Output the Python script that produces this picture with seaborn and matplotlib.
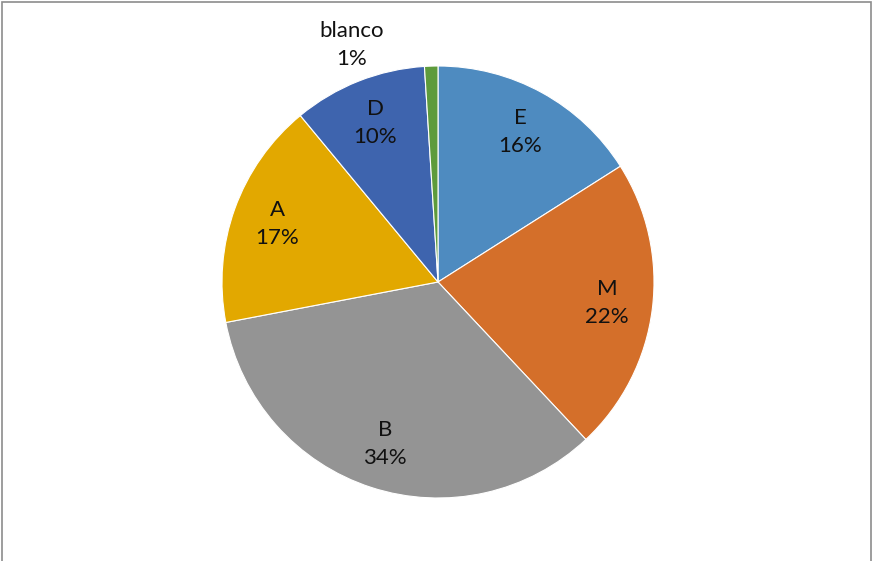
import numpy as np
import matplotlib
matplotlib.use('Agg')
import matplotlib.pyplot as plt
from matplotlib.patches import Rectangle
import seaborn as sns

# data (clockwise from the top)
labels = ['E', 'M', 'B', 'A', 'D', 'blanco']
values = [16, 22, 34, 17, 10, 1]
colors = ['#4E8BC0', '#D46F2A', '#949494', '#E2A800', '#3E64AE', '#5E9B3C']

sns.set_theme(style='white')
plt.rcParams['font.family'] = ['Lato', 'DejaVu Sans']

fig = plt.figure(figsize=(8.74, 5.61), dpi=100)
ax = fig.add_axes([0, 0, 1, 1])

pal = sns.color_palette(colors)
wedges, texts = ax.pie(values, colors=pal, startangle=90, counterclock=False,
                       radius=1.0, wedgeprops=dict(edgecolor='white', linewidth=0.8))

total = sum(values)
start = 90.0
for i, (lab, v) in enumerate(zip(labels, values)):
    frac = v / total
    mid = start - frac * 360 / 2
    start -= frac * 360
    r = 0.79
    if lab == 'blanco':
        # Excel pushed this label outside and a bit to the left
        mid = 110
        r = 1.17
    x = r * np.cos(np.radians(mid))
    y = r * np.sin(np.radians(mid))
    ax.text(x, y, f'{lab}\n{v}%', ha='center', va='center', fontsize=16,
            color='#111111', linespacing=1.5)

ax.set_xlim(-438 / 216, (874 - 438) / 216)
ax.set_ylim(-279 / 216, 282 / 216)
ax.set_aspect('auto')
ax.axis('off')

fig.patches.append(Rectangle((2 / 874, -0.05), 869 / 874, 1.05 - 2.5 / 561,
                             transform=fig.transFigure, fill=False,
                             edgecolor='#8c8c8c', linewidth=1.2))

fig.savefig('out.png', dpi=100)
